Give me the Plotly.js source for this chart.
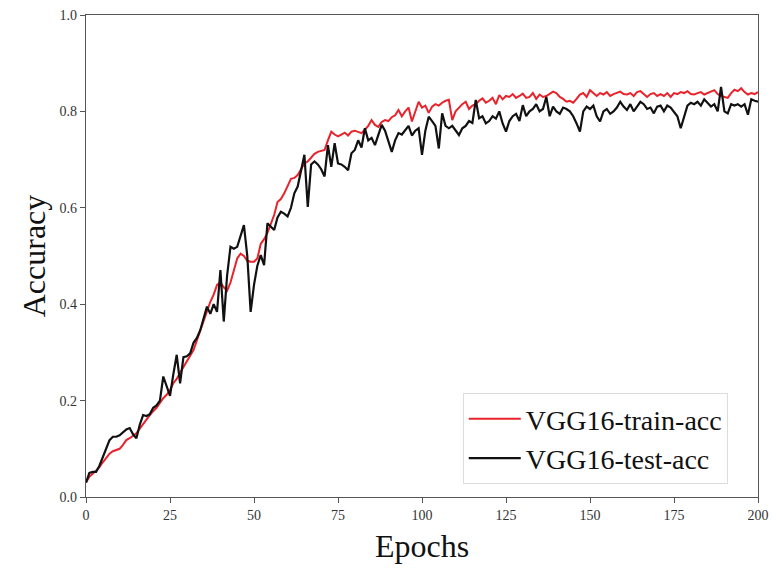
<!DOCTYPE html>
<html>
<head>
<meta charset="utf-8">
<script src="https://cdn.plot.ly/plotly-3.0.1.min.js"></script>
<style>html,body{margin:0;padding:0;background:#fff;}#chart{width:772px;height:572px;}</style>
</head>
<body>
<div id="chart"></div>
<script>
const seriesNames = ["VGG16-train-acc", "VGG16-test-acc"];
const xTickVals = [0, 25, 50, 75, 100, 125, 150, 175, 200];
const yTickVals = [0.0, 0.2, 0.4, 0.6, 0.8, 1.0];

const trainAcc = [
  0.030, 0.042, 0.048, 0.055, 0.062, 0.072, 0.080, 0.090, 0.095, 0.098,
  0.100, 0.108, 0.118, 0.122, 0.128, 0.132, 0.142, 0.152, 0.160, 0.170,
  0.178, 0.185, 0.195, 0.205, 0.212, 0.222, 0.236, 0.245, 0.258, 0.270,
  0.282, 0.292, 0.305, 0.325, 0.345, 0.362, 0.385, 0.405, 0.420, 0.440,
  0.445, 0.435, 0.428, 0.445, 0.470, 0.495, 0.505, 0.500, 0.490, 0.488,
  0.488, 0.495, 0.525, 0.535, 0.548, 0.565, 0.585, 0.612, 0.618, 0.630,
  0.645, 0.660, 0.662, 0.668, 0.680, 0.692, 0.696, 0.705, 0.712, 0.716,
  0.718, 0.720, 0.740, 0.758, 0.752, 0.748, 0.752, 0.756, 0.750, 0.758,
  0.760, 0.758, 0.755, 0.762, 0.770, 0.782, 0.772, 0.768, 0.778, 0.782,
  0.780, 0.788, 0.792, 0.803, 0.790, 0.800, 0.808, 0.779, 0.800, 0.820,
  0.808, 0.812, 0.797, 0.810, 0.815, 0.812, 0.818, 0.822, 0.824, 0.782,
  0.800, 0.808, 0.815, 0.820, 0.805, 0.812, 0.815, 0.822, 0.827, 0.818,
  0.822, 0.828, 0.815, 0.834, 0.825, 0.832, 0.830, 0.836, 0.828, 0.832,
  0.837, 0.828, 0.830, 0.838, 0.826, 0.835, 0.830, 0.832, 0.836, 0.841,
  0.838, 0.830, 0.826, 0.820, 0.822, 0.818, 0.826, 0.835, 0.838, 0.830,
  0.844, 0.838, 0.832, 0.838, 0.835, 0.840, 0.832, 0.836, 0.838, 0.841,
  0.836, 0.835, 0.838, 0.832, 0.840, 0.842, 0.836, 0.830, 0.836, 0.838,
  0.832, 0.836, 0.832, 0.838, 0.830, 0.838, 0.836, 0.840, 0.838, 0.842,
  0.836, 0.835, 0.838, 0.840, 0.835, 0.838, 0.842, 0.844, 0.836, 0.832,
  0.830, 0.828, 0.838, 0.845, 0.842, 0.848, 0.840, 0.835, 0.838, 0.836,
  0.840
];

const testAcc = [
  0.030, 0.050, 0.052, 0.052, 0.065, 0.084, 0.100, 0.118, 0.125, 0.125,
  0.128, 0.135, 0.140, 0.143, 0.130, 0.122, 0.150, 0.170, 0.168, 0.172,
  0.185, 0.190, 0.200, 0.250, 0.230, 0.210, 0.255, 0.295, 0.236, 0.290,
  0.292, 0.298, 0.320, 0.330, 0.346, 0.370, 0.395, 0.380, 0.400, 0.384,
  0.471, 0.364, 0.460, 0.519, 0.515, 0.519, 0.540, 0.564, 0.500, 0.384,
  0.440, 0.480, 0.502, 0.481, 0.568, 0.560, 0.554, 0.580, 0.592, 0.588,
  0.582, 0.600, 0.630, 0.644, 0.680, 0.710, 0.602, 0.690, 0.696, 0.690,
  0.680, 0.665, 0.730, 0.685, 0.734, 0.692, 0.690, 0.685, 0.678, 0.713,
  0.720, 0.740, 0.725, 0.765, 0.740, 0.745, 0.730, 0.750, 0.772, 0.760,
  0.740, 0.716, 0.740, 0.755, 0.752, 0.760, 0.770, 0.750, 0.760, 0.765,
  0.710, 0.760, 0.789, 0.780, 0.770, 0.723, 0.796, 0.770, 0.765, 0.770,
  0.760, 0.751, 0.765, 0.770, 0.780, 0.776, 0.824, 0.786, 0.790, 0.775,
  0.780, 0.790, 0.785, 0.800, 0.775, 0.758, 0.780, 0.790, 0.795, 0.780,
  0.813, 0.790, 0.800, 0.805, 0.815, 0.800, 0.805, 0.830, 0.790, 0.810,
  0.800, 0.795, 0.808, 0.805, 0.800, 0.790, 0.775, 0.758, 0.800, 0.810,
  0.805, 0.812, 0.790, 0.779, 0.800, 0.805, 0.795, 0.800, 0.808, 0.820,
  0.810, 0.803, 0.815, 0.800, 0.810, 0.820, 0.815, 0.805, 0.808, 0.796,
  0.810, 0.812, 0.800, 0.812, 0.808, 0.800, 0.790, 0.765, 0.790, 0.812,
  0.818, 0.815, 0.820, 0.812, 0.825, 0.818, 0.810, 0.815, 0.800, 0.851,
  0.800, 0.796, 0.815, 0.812, 0.815, 0.810, 0.815, 0.793, 0.825, 0.822,
  0.820
];

const epochs = trainAcc.map((_, i) => i);

const serif = "Liberation Serif, Times New Roman, serif";

const traces = [
  {x: epochs, y: trainAcc, name: seriesNames[0], type: "scatter", mode: "lines",
   line: {color: "#e8232b", width: 2}},
  {x: epochs, y: testAcc, name: seriesNames[1], type: "scatter", mode: "lines",
   line: {color: "#111111", width: 2.2}}
];

const layout = {
  width: 772, height: 572,
  margin: {l: 86, r: 14, t: 15, b: 75},
  paper_bgcolor: "#ffffff", plot_bgcolor: "#ffffff",
  showlegend: true,
  font: {family: serif, color: "#222"},
  xaxis: {
    range: [0, 200], tickvals: xTickVals, ticktext: xTickVals.map(String),
    showgrid: false, zeroline: false, showline: true, mirror: true,
    linecolor: "#555", linewidth: 1.3, ticks: "outside", ticklen: 5, tickcolor: "#555",
    tickfont: {family: serif, size: 14, color: "#333"},
    title: {text: "Epochs", font: {family: serif, size: 32, color: "#111"}, standoff: 12}
  },
  yaxis: {
    range: [0, 1], tickvals: yTickVals, ticktext: yTickVals.map(v => v.toFixed(1)),
    showgrid: false, zeroline: false, showline: true, mirror: true,
    linecolor: "#555", linewidth: 1.3, ticks: "outside", ticklen: 5, tickcolor: "#555",
    tickfont: {family: serif, size: 14, color: "#333"},
    title: {text: "Accuracy", font: {family: serif, size: 32, color: "#111"}, standoff: 4}
  },
  legend: {
    x: 0.955, y: 0.027, xanchor: "right", yanchor: "bottom",
    bgcolor: "#ffffff", bordercolor: "#dddddd", borderwidth: 1,
    font: {family: serif, size: 28, color: "#111"},
    itemwidth: 52
  }
};

Plotly.newPlot("chart", traces, layout, {displayModeBar: false, staticPlot: true});
</script>
</body>
</html>
